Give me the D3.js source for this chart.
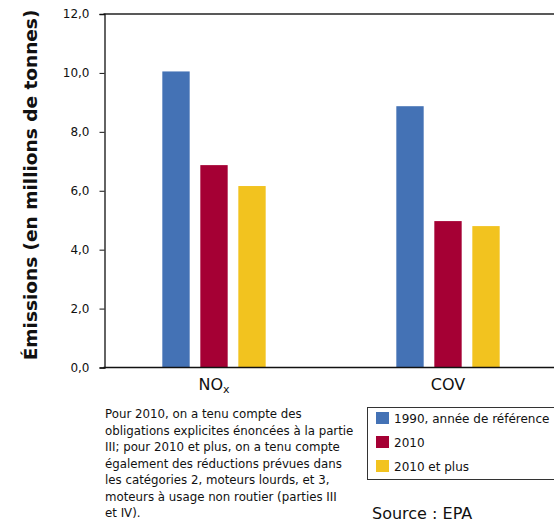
<!DOCTYPE html>
<html>
<head>
<meta charset="utf-8">
<script src="https://cdn.jsdelivr.net/npm/d3@7"></script>
<style>
  body { margin: 0; background: #fff; }
  svg { display: block; }
  text { font-family: "DejaVu Sans", Verdana, sans-serif; fill: #111; }
</style>
</head>
<body>
<svg id="chart" width="554" height="523"></svg>
<script>
const categories = ["NOx", "COV"];
const series = ["1990, année de référence", "2010", "2010 et plus"];
const values1990 = [10.05, 8.87];
const values2010 = [6.87, 4.97];
const values2010plus = [6.16, 4.80];
const yTicks = [0, 2, 4, 6, 8, 10, 12];
const colors = ["#4472b5", "#a50034", "#f2c31f"];
const noteLines = [
  "Pour 2010, on a tenu compte des",
  "obligations explicites énoncées à la partie",
  "III; pour 2010 et plus, on a tenu compte",
  "également des réductions prévues dans",
  "les catégories 2, moteurs lourds, et 3,",
  "moteurs à usage non routier (parties III",
  "et IV)."
];

const svg = d3.select("#chart");
const mLeft = 104.5, mTop = 14, mBottom = 367.5, mRight = 554;

const y = d3.scaleLinear().domain([0, 12]).range([mBottom, mTop]);
const x = d3.scaleBand().domain(categories).range([97, 565]);
const xs = d3.scaleBand().domain(series).range([-57, 57]).paddingInner(0.28).paddingOuter(0.14);

const data = categories.map((c, i) => ({
  cat: c,
  vals: [values1990[i], values2010[i], values2010plus[i]]
}));

// bars
const g = svg.append("g");
data.forEach(d => {
  const cx = x(d.cat) + x.bandwidth() / 2;
  d.vals.forEach((v, j) => {
    g.append("rect")
      .attr("x", cx + xs(series[j]))
      .attr("y", y(v))
      .attr("width", xs.bandwidth())
      .attr("height", y(0) - y(v))
      .attr("fill", colors[j]);
  });
});

// top frame line
svg.append("line").attr("x1", mLeft - 1).attr("x2", mRight).attr("y1", mTop).attr("y2", mTop)
  .attr("stroke", "#222").attr("stroke-width", 1.5);

// y axis
const yAxis = d3.axisLeft(y).tickValues(yTicks).tickSize(5).tickPadding(10)
  .tickFormat(d => d3.format(".1f")(d).replace(".", ","));
const ya = svg.append("g").attr("transform", `translate(${mLeft},0)`).call(yAxis);
ya.select(".domain").attr("stroke", "#111").attr("stroke-width", 1.3);
ya.selectAll(".tick line").attr("stroke", "#111");
ya.selectAll(".tick text").style("font-size", "12px").style("font-family", "DejaVu Sans, sans-serif").attr("fill", "#222");

// x axis line
svg.append("line").attr("x1", mLeft - 1).attr("x2", mRight).attr("y1", mBottom).attr("y2", mBottom)
  .attr("stroke", "#111").attr("stroke-width", 1.5);

// x labels
categories.forEach(c => {
  const cx = x(c) + x.bandwidth() / 2;
  const t = svg.append("text").attr("x", cx).attr("y", 390).attr("text-anchor", "middle")
    .style("font-size", "16px");
  if (c === "NOx") {
    t.append("tspan").text("NO");
    t.append("tspan").text("x").style("font-size", "11px").attr("dy", 3);
  } else {
    t.text(c);
  }
});

// y title
svg.append("text")
  .attr("transform", "translate(37,185) rotate(-90)")
  .attr("text-anchor", "middle")
  .style("font-size", "18.5px").style("font-weight", "bold")
  .text("Émissions (en millions de tonnes)");

// note
const note = svg.append("text").style("font-size", "11.8px");
noteLines.forEach((l, i) => {
  note.append("tspan").attr("x", 105).attr("y", 418 + i * 16.5).text(l);
});

// legend
svg.append("rect").attr("x", 367.5).attr("y", 407.5).attr("width", 190).attr("height", 72)
  .attr("fill", "none").attr("stroke", "#333").attr("stroke-width", 1);
series.forEach((s, j) => {
  const ly = 412 + j * 24;
  svg.append("rect").attr("x", 376).attr("y", ly).attr("width", 13).attr("height", 12).attr("fill", colors[j]);
  svg.append("text").attr("x", 394).attr("y", ly + 11).style("font-size", "12px").text(s);
});

svg.append("text").attr("x", 372).attr("y", 519).style("font-size", "16px").text("Source : EPA");
</script>
</body>
</html>
